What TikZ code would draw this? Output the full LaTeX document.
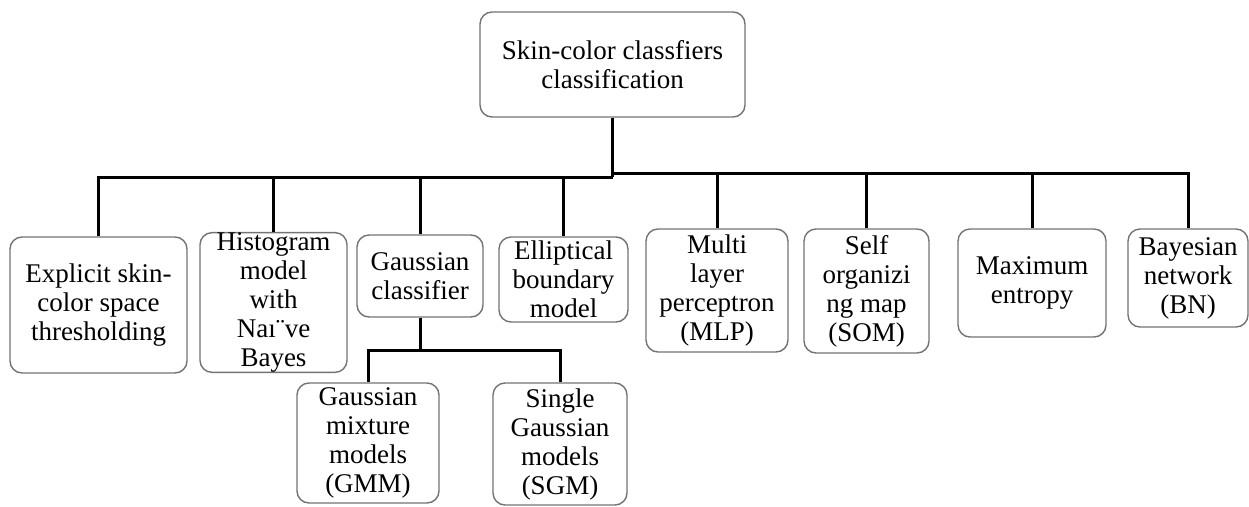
\documentclass[tikz,border=0pt]{standalone}
\usepackage{fontspec}
\setmainfont{Liberation Serif}

\begin{document}
\begin{tikzpicture}[x=1pt, y=-1pt,
    box/.style={draw=black!55, line width=1.4pt, rounded corners=12pt,
        align=center, inner sep=0pt, font=\fontsize{27}{29}\selectfont},
    link/.style={line width=3pt}]

\useasboundingbox (0,0) rectangle (1249,506);

% Root
\node[box, minimum width=265pt, minimum height=105pt] (root) at (612.5,64.5)
    {Skin-color classfiers\\classification};

% Bus levels
\coordinate (busL) at (0,177);
\coordinate (busR) at (0,173);
\coordinate (busG) at (0,350);

% First level classifiers
\node[box, minimum width=177pt, minimum height=136pt] (expl) at (98.5,305)
    {Explicit skin-\\color space\\thresholding};
\node[box, minimum width=147pt, minimum height=137pt] (hist) at (273.5,302.5)
    {Histogram\\model\\with\\Naı¨ve\\Bayes};
\node[box, minimum width=126pt, minimum height=82pt] (gauss) at (420,276)
    {Gaussian\\classifier};
\node[box, minimum width=129pt, minimum height=85pt] (ellip) at (563.5,279.5)
    {Elliptical\\boundary\\model};
\node[box, minimum width=142pt, minimum height=123pt] (mlp) at (717,290.5)
    {Multi\\layer\\perceptron\\(MLP)};
\node[box, minimum width=125pt, minimum height=124pt] (som) at (866.5,291)
    {Self\\organizi\\ng map\\(SOM)};
\node[box, minimum width=148pt, minimum height=108pt] (maxent) at (1032,283)
    {Maximum\\entropy};
\node[box, minimum width=120pt, minimum height=98pt] (bn) at (1188,278)
    {Bayesian\\network\\(BN)};

% Gaussian sub-classifiers
\node[box, minimum width=142pt, minimum height=120pt] (gmm) at (368,443)
    {Gaussian\\mixture\\models\\(GMM)};
\node[box, minimum width=134pt, minimum height=122pt] (sgm) at (560,444)
    {Single\\Gaussian\\models\\(SGM)};

% Connectors from root
\draw[link] (root.south) -- (root.south |- busL);
\foreach \n in {expl,hist,gauss,ellip}
    \draw[link] (root.south |- busL) -| (\n.north);
\foreach \n in {mlp,som,maxent,bn}
    \draw[link] (root.south |- busR) -| (\n.north);

% Connectors from Gaussian classifier
\draw[link] (gauss.south) -- (gauss.south |- busG);
\foreach \n in {gmm,sgm}
    \draw[link] (gauss.south |- busG) -| (\n.north);

\end{tikzpicture}
\end{document}
